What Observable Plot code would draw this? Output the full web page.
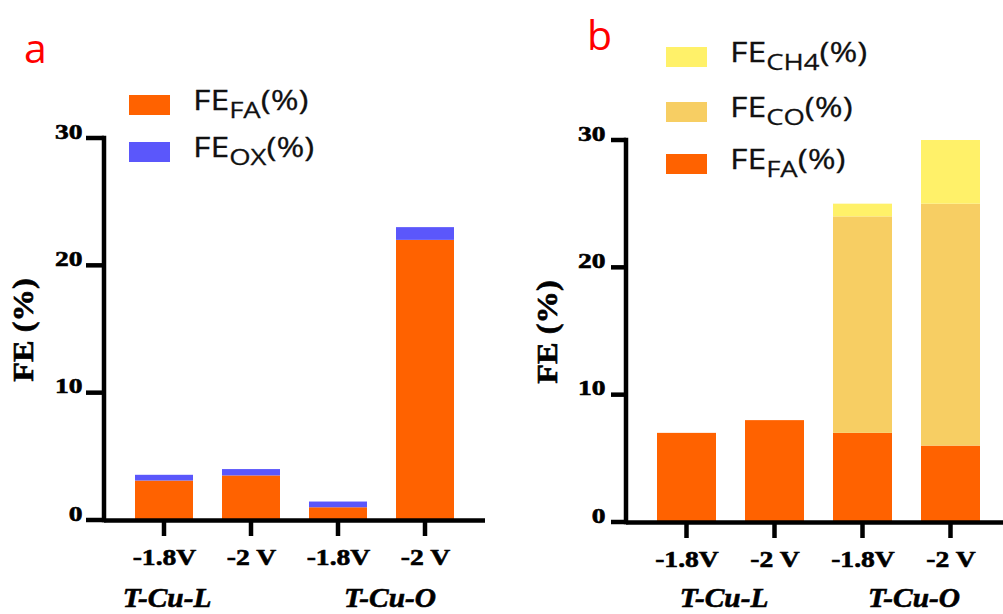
<!DOCTYPE html>
<html><head><meta charset="utf-8">
<script src="https://cdn.jsdelivr.net/npm/d3@7"></script>
<script src="https://cdn.jsdelivr.net/npm/@observablehq/plot@0.6"></script>
<style>
html,body{margin:0;padding:0;background:#fff;}
#wrap{position:relative;width:1003px;height:614px;overflow:hidden;background:#fff;}
#wrap > svg{position:absolute;top:0;}
</style></head><body><div id="wrap"></div>
<script>
// ---- data ----
const conditions = ["T-Cu-L -1.8V", "T-Cu-L -2V", "T-Cu-O -1.8V", "T-Cu-O -2V"];
const tickLabels = ["-1.8V", "-2 V", "-1.8V", "-2 V"];
const groups = ["T-Cu-L", "T-Cu-O"];
const yTicks = [0, 10, 20, 30];
// panel a
const seriesA = ["FA", "OX"];
const colorsA = ["#FF6200", "#5B57FB"];
const faA = [3.1, 3.5, 1.0, 22.0];
const oxA = [0.45, 0.5, 0.45, 1.0];
// panel b
const seriesB = ["FA", "CO", "CH4"];
const colorsB = ["#FF6200", "#F7CE63", "#FFF169"];
const faB = [7, 8, 7, 6];
const coB = [0, 0, 17, 19];
const ch4B = [0, 0, 1, 5];

const rowsA = conditions.flatMap((c, i) => [
  {cond: c, series: "FA", value: faA[i]},
  {cond: c, series: "OX", value: oxA[i]}
]);
const rowsB = conditions.flatMap((c, i) => [
  {cond: c, series: "FA", value: faB[i]},
  {cond: c, series: "CO", value: coB[i]},
  {cond: c, series: "CH4", value: ch4B[i]}
]);

const SERIF = "'Liberation Serif', 'Times New Roman', serif";
const SANS = "'Open Sans', 'Noto Sans', sans-serif";
const AXW = 4.5;

function post(svg) {
  // horizontally widen the tick-label glyphs about their anchor
  svg.querySelectorAll("text").forEach(el => {
    const s = el.textContent;
    if (!s) return;
    const sx = /V/.test(s) ? 1.15 : 1.25;
    const x = +el.getAttribute("x") || 0, y = +el.getAttribute("y") || 0;
    const tr = el.getAttribute("transform") || "";
    el.removeAttribute("x"); el.removeAttribute("y");
    el.setAttribute("transform", `${tr} translate(${x},${y}) scale(${sx},1)`);
    el.style.stroke = "black";
    el.style.strokeWidth = "0.6px";
  });
}

// axis lines and ticks drawn with the plot's own scales
function axesMark(yTickSize, range) {
  return (index, scales, values, dims) => {
    const bottom = dims.height - dims.marginBottom;
    const left = dims.marginLeft;
    let y = scales && typeof scales.y === "function" ? scales.y : null;
    let x = scales && typeof scales.x === "function" ? scales.x : null;
    if (!y) y = d3.scaleLinear([0, 30], [bottom, dims.marginTop]);
    if (!x) x = d3.scaleBand(conditions, range).padding(0.335);
    const bw = typeof x.bandwidth === "function" ? x.bandwidth() : 0;
    const g = d3.create("svg:g").attr("stroke", "black").attr("stroke-width", AXW).attr("fill", "none");
    g.append("line").attr("x1", left).attr("x2", left)
      .attr("y1", y(30) - AXW / 2).attr("y2", bottom + AXW / 2);
    for (const t of yTicks) {
      g.append("line").attr("x1", left - yTickSize).attr("x2", left).attr("y1", y(t)).attr("y2", y(t));
    }
    for (const c of conditions) {
      const cx = x(c) + bw / 2;
      g.append("line").attr("x1", cx).attr("x2", cx).attr("y1", bottom).attr("y2", bottom + 16);
    }
    return g.node();
  };
}

function panel({rows, series, colors, left, width, marginLeft, marginRight, range, marginTop, marginBottom, yTickSize, yLabelDx}) {
  const svg = Plot.plot({
    width, height: 614,
    marginLeft, marginRight, marginTop, marginBottom,
    x: {type: "band", domain: conditions, range, padding: 0.335, axis: null},
    y: {domain: [0, 30], axis: null},
    color: {domain: series, range: colors},
    style: {background: "white", color: "black", fontFamily: SERIF, fontSize: "22px", fontWeight: "bold", overflow: "visible"},
    marks: [
      Plot.barY(rows, {x: "cond", y: "value", fill: "series"}),
      Plot.ruleY([0], {strokeWidth: AXW, stroke: "black"}),
      axesMark(yTickSize, range),
      Plot.text(yTicks, {y: d => d, text: d => String(d), frameAnchor: "left", textAnchor: "end", lineAnchor: "middle",
        dx: yLabelDx, fontSize: 22, fontWeight: "bold", fontFamily: SERIF, fill: "black"}),
      Plot.text(conditions, {x: d => d, text: (d, i) => tickLabels[i], frameAnchor: "bottom", lineAnchor: "middle",
        dy: 44, fontSize: 24, fontWeight: "bold", fontFamily: SERIF, fill: "black"})
    ]
  });
  svg.style.left = left + "px";
  svg.style.position = "absolute";
  svg.style.maxWidth = "none";
  post(svg);
  return svg;
}

const wrap = document.getElementById("wrap");
wrap.appendChild(panel({rows: rowsA, series: seriesA, colors: colorsA, left: 0, width: 500,
  marginLeft: 104, marginRight: 15, range: [104, 485], marginTop: 138, marginBottom: 94, yTickSize: 18, yLabelDx: -22}));
wrap.appendChild(panel({rows: rowsB, series: seriesB, colors: colorsB, left: 500, width: 503,
  marginLeft: 126, marginRight: 0, range: [125.7, 510], marginTop: 140, marginBottom: 92, yTickSize: 15, yLabelDx: -21}));

// ---- overlay text: panel letters, legends, axis titles, group labels ----
const ov = d3.select(wrap).append("svg").attr("width", 1003).attr("height", 614)
  .style("left", "0px").style("pointer-events", "none");

function letter(t, x, y) {
  ov.append("text").attr("x", x).attr("y", y).attr("fill", "#FF0000")
    .attr("font-family", SANS).attr("font-size", 41).text(t);
}
letter("a", 24, 63);
letter("b", 587, 50);

function legendItem(x, top, color, sub) {
  ov.append("rect").attr("x", x).attr("y", top).attr("width", 41).attr("height", 20).attr("fill", color);
  const t = ov.append("text").attr("transform", `translate(${x + 64},${top + 15}) scale(1.25,1)`)
    .attr("font-family", SANS).attr("font-size", 27).attr("fill", "#111")
    .style("stroke", "#111").style("stroke-width", "0.25px");
  t.append("tspan").text("FE");
  t.append("tspan").attr("font-size", 22).attr("dy", 8).text(sub);
  t.append("tspan").attr("dy", -8).text("(%)");
}
legendItem(129, 95, colorsA[0], seriesA[0]);
legendItem(129, 142, colorsA[1], seriesA[1]);
legendItem(666, 47, colorsB[2], seriesB[2]);
legendItem(666, 102, colorsB[1], seriesB[1]);
legendItem(666, 154, colorsB[0], seriesB[0]);

function yTitle(x, y) {
  ov.append("text").attr("transform", `translate(${x},${y}) rotate(-90) scale(1.08,1)`)
    .attr("text-anchor", "middle").attr("font-family", SERIF).attr("font-weight", "bold")
    .attr("font-size", 30).style("stroke", "black").style("stroke-width", "0.6px").text("FE (%)");
}
yTitle(33, 330);
yTitle(557, 332);

function groupLabel(t, cx) {
  ov.append("text").attr("transform", `translate(${cx},607) scale(1.05,1)`)
    .attr("text-anchor", "middle").attr("font-family", SERIF).attr("font-weight", "bold")
    .attr("font-style", "italic").attr("font-size", 28).style("stroke", "black").style("stroke-width", "0.6px").text(t);
}
groupLabel(groups[0], 167);
groupLabel(groups[1], 390);
groupLabel(groups[0], 724);
groupLabel(groups[1], 914);
</script></body></html>
